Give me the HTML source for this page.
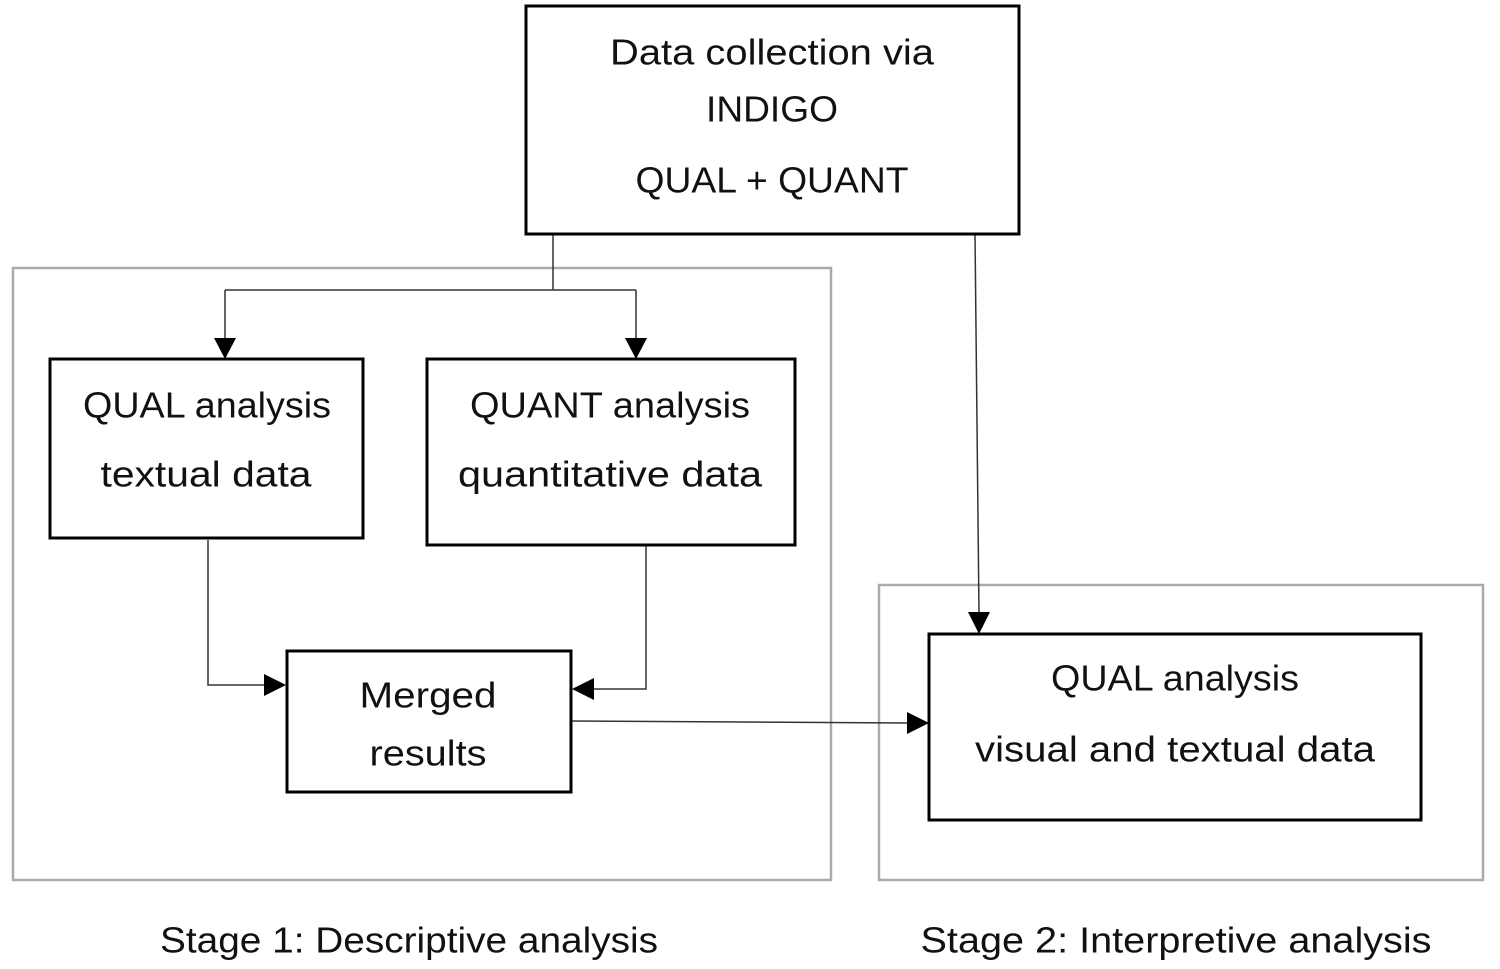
<!DOCTYPE html>
<html><head><meta charset="utf-8"><style>
html,body{margin:0;padding:0;background:#fff;}
svg{display:block;}
text{font-family:"Liberation Sans",sans-serif;font-size:36px;fill:#111;text-anchor:middle;dominant-baseline:central;}
</style></head><body>
<svg width="1500" height="969" viewBox="0 0 1500 969" xmlns="http://www.w3.org/2000/svg">
<rect x="13" y="268" width="818" height="612" fill="none" stroke="#aaa" stroke-width="2.5"/>
<rect x="879" y="585" width="604" height="295" fill="none" stroke="#aaa" stroke-width="2.5"/>
<g stroke="#333" stroke-width="1.5" fill="none">
<path d="M553,234 V290 M225,290 H636 M225,290 V340 M636,290 V340"/>
<path d="M975,234 L979,614"/>
<path d="M208,540 V685 H266"/>
<path d="M646,545 V689 H592"/>
<path d="M571,721 L909,723"/>
</g>
<g fill="#000">
<polygon points="214,338 236,338 225,359"/>
<polygon points="625,338 647,338 636,359"/>
<polygon points="968,612 990,612 979,634"/>
<polygon points="264,674 264,696 286,685"/>
<polygon points="594,678 594,700 572,689"/>
<polygon points="907,712 907,734 929,723"/>
</g>
<g fill="#fff" stroke="#000" stroke-width="3">
<rect x="526" y="6" width="493" height="228"/>
<rect x="50" y="359" width="313" height="179"/>
<rect x="427" y="359" width="368" height="186"/>
<rect x="287" y="651" width="284" height="141"/>
<rect x="929" y="634" width="492" height="186"/>
</g>
<text x="772" y="52" textLength="324" lengthAdjust="spacingAndGlyphs">Data collection via</text>
<text x="772" y="109" textLength="132" lengthAdjust="spacingAndGlyphs">INDIGO</text>
<text x="772" y="180" textLength="273" lengthAdjust="spacingAndGlyphs">QUAL + QUANT</text>
<text x="207" y="405" textLength="248" lengthAdjust="spacingAndGlyphs">QUAL analysis</text>
<text x="206" y="474" textLength="211" lengthAdjust="spacingAndGlyphs">textual data</text>
<text x="610" y="405" textLength="280" lengthAdjust="spacingAndGlyphs">QUANT analysis</text>
<text x="610" y="474" textLength="304" lengthAdjust="spacingAndGlyphs">quantitative data</text>
<text x="428" y="695" textLength="137" lengthAdjust="spacingAndGlyphs">Merged</text>
<text x="428" y="753" textLength="117" lengthAdjust="spacingAndGlyphs">results</text>
<text x="1175" y="678" textLength="248" lengthAdjust="spacingAndGlyphs">QUAL analysis</text>
<text x="1175" y="749" textLength="400" lengthAdjust="spacingAndGlyphs">visual and textual data</text>
<text x="409" y="940" textLength="498" lengthAdjust="spacingAndGlyphs">Stage 1: Descriptive analysis</text>
<text x="1176" y="940" textLength="511" lengthAdjust="spacingAndGlyphs">Stage 2: Interpretive analysis</text>
</svg>
</body></html>
